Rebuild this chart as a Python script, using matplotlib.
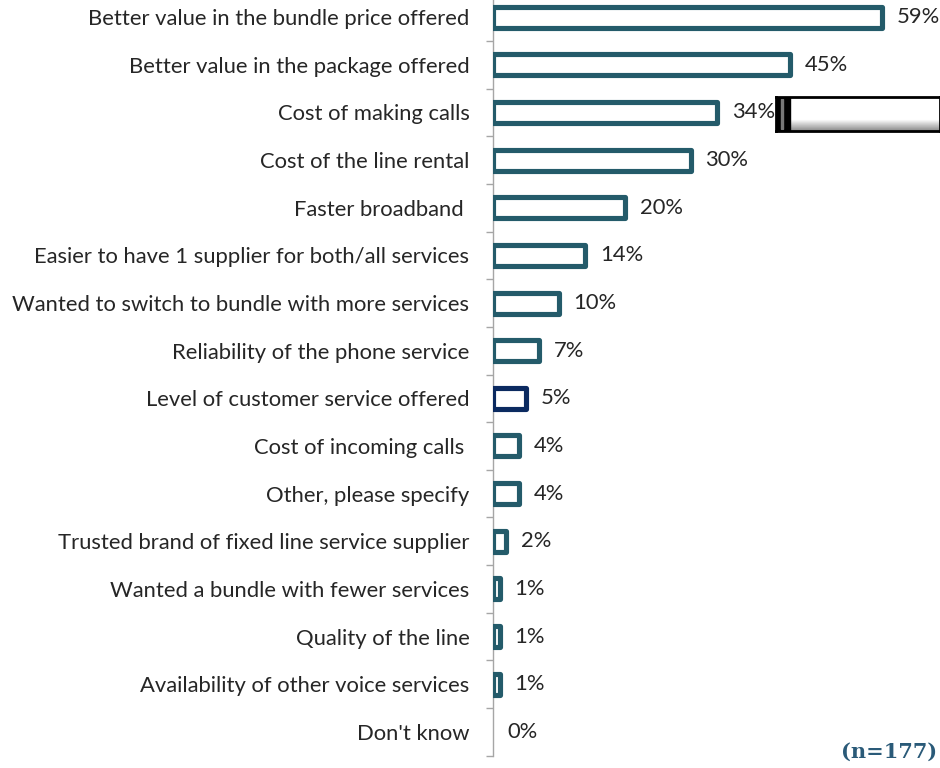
import numpy as np
import matplotlib.pyplot as plt
from matplotlib.patches import Rectangle

plt.rcParams['font.family'] = ['Lato', 'DejaVu Sans']

categories = [
    "Better value in the bundle price offered",
    "Better value in the package offered",
    "Cost of making calls",
    "Cost of the line rental",
    "Faster broadband ",
    "Easier to have 1 supplier for both/all services",
    "Wanted to switch to bundle with more services",
    "Reliability of the phone service",
    "Level of customer service offered",
    "Cost of incoming calls ",
    "Other, please specify",
    "Trusted brand of fixed line service supplier",
    "Wanted a bundle with fewer services",
    "Quality of the line",
    "Availability of other voice services",
    "Don't know",
]
values = [59, 45, 34, 30, 20, 14, 10, 7, 5, 4, 4, 2, 1, 1, 1, 0]
value_labels = ["59%", "45%", "34%", "30%", "20%", "14%", "10%", "7%", "5%",
                "4%", "4%", "2%", "1%", "1%", "1%", "0%"]

teal = "#245b6a"
navy = "#0b2a60"
edge_colors = [navy if c.startswith("Level of customer") else teal for c in categories]

W, H = 940, 768
row = 47.64
ax_left = 493 / W
ax_h = 755.6
fig = plt.figure(figsize=(W / 100, H / 100), dpi=100)
ax = fig.add_axes([ax_left, (H - ax_h) / H, 1 - ax_left, ax_h / H])

y = np.arange(len(categories))
for yi, v, ec in zip(y, values, edge_colors):
    if v > 0:
        ax.barh(yi, v, height=0.44, color="white", edgecolor=ec,
                linewidth=3.7, joinstyle="round", zorder=3)

for yi, v, lab in zip(y, values, value_labels):
    ax.annotate(lab, (v, yi), xytext=(10.5, 0), textcoords="offset points",
                va="center", ha="left", fontsize=15.8, color="#262626")

ax.set_yticks(y)
ax.set_yticklabels(categories, fontsize=15.8, color="#262626")
ax.set_yticks(np.arange(len(categories) + 1) - 0.5, minor=True)
# limits after the ticks, otherwise set_yticks widens them
ax.set_xlim(0, 447 / 6.6)
ax.set_ylim(len(categories) - 0.5, -0.5 + 6.6 / row)
ax.tick_params(axis="y", which="major", length=0, pad=17)
ax.tick_params(axis="y", which="minor", length=5, width=1, color="#a6a6a6")
ax.set_xticks([])
for s in ["top", "right", "bottom"]:
    ax.spines[s].set_visible(False)
ax.spines["left"].set_color("#a6a6a6")
ax.spines["left"].set_linewidth(1)

# stray slider widget overlapping the chart
sx0, sy0, sw, sh = 776 / W, 1 - 131 / H, 164 / W, 34 / H
sax = fig.add_axes([sx0, sy0, sw, sh])
grad = np.ones((40, 10))
grad[-14:, :] = np.linspace(1, 0.55, 14)[:, None]
sax.imshow(grad, cmap="gray", vmin=0, vmax=1, aspect="auto", extent=[0, 1, 0, 1])
sax.add_patch(Rectangle((0, 0), 0.085, 1, color="black"))
sax.add_patch(Rectangle((0.03, 0.05), 0.015, 0.9, color="#777777"))
sax.set_xlim(0, 1)
sax.set_ylim(0, 1)
sax.set_xticks([])
sax.set_yticks([])
for s in sax.spines.values():
    s.set_color("black")
    s.set_linewidth(2)

fig.text(937 / W, 1 - 752 / H, "(n=177)", ha="right", va="center",
         fontsize=15, fontweight="bold", family="DejaVu Serif", color="#2a5a78")

fig.savefig("out.png", dpi=100)
